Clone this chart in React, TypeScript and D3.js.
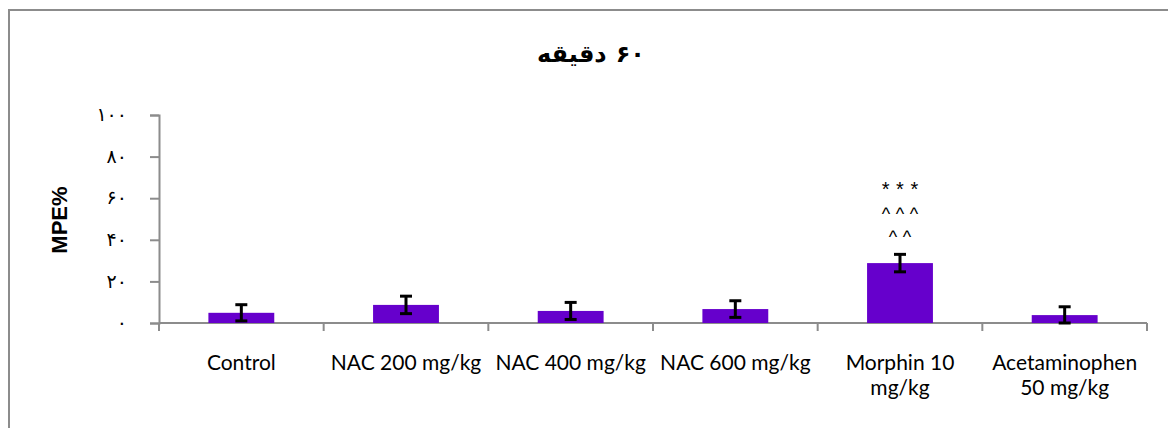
import React, { useEffect, useRef } from "react";
import * as d3 from "d3";

const categories = [
  "Control",
  "NAC 200 mg/kg",
  "NAC 400 mg/kg",
  "NAC 600 mg/kg",
  "Morphin 10\nmg/kg",
  "Acetaminophen\n50 mg/kg",
];
const meanValues = [4.9, 8.7, 5.8, 6.7, 28.8, 3.8];
const errValues = [3.9, 4.2, 4.1, 4.0, 4.2, 4.0];
const yTicks = [0, 20, 40, 60, 80, 100];
const yTickLabels = ["۰", "۲۰", "۴۰", "۶۰", "۸۰", "۱۰۰"];
const significance = [[], [], [], [], ["***", "^^^", "^^"], []];
// title "۶۰ دقیقه" in visual order, left to right
const titleParts = ["دقیقه", "۶۰"];
const yTitle = "MPE%";

const App = () => {
  const ref = useRef<SVGSVGElement>(null);

  useEffect(() => {
    const width = 1168;
    const height = 428;
    const margin = { left: 159, right: 21, top: 115, bottom: 105 };

    const svg = d3.select(ref.current);
    svg.selectAll("*").remove();

    // frame
    svg
      .append("rect")
      .attr("x", 9)
      .attr("y", 10)
      .attr("width", width)
      .attr("height", height)
      .attr("fill", "#fff")
      .attr("stroke", "#8c8c8c")
      .attr("stroke-width", 2);

    const x = d3
      .scaleBand()
      .domain(categories)
      .range([margin.left, width - margin.right])
      .paddingInner(0.6)
      .paddingOuter(0.3);
    const y = d3
      .scaleLinear()
      .domain([0, 100])
      .range([height - margin.bottom, margin.top]);

    const axisColor = "#8c8c8c";
    const y0 = y(0);

    // y axis
    const yAxis = svg
      .append("g")
      .attr("transform", `translate(${margin.left},0)`)
      .call(
        d3
          .axisLeft(y)
          .tickValues(yTicks)
          .tickSize(9)
          .tickPadding(23)
          .tickFormat((d, i) => yTickLabels[i])
      );
    yAxis.select(".domain").attr("stroke", axisColor).attr("stroke-width", 2);
    yAxis.selectAll(".tick line").attr("stroke", axisColor).attr("stroke-width", 2);
    yAxis
      .selectAll(".tick text")
      .attr("font-family", "DejaVu Sans")
      .attr("font-size", 19)
      .attr("dy", "0.3em")
      .attr("fill", "#000");

    // x axis line + category ticks at boundaries
    const step = x.step();
    const xl = margin.left;
    const xr = width - margin.right;
    svg
      .append("line")
      .attr("x1", xl)
      .attr("x2", xr)
      .attr("y1", y0)
      .attr("y2", y0)
      .attr("stroke", axisColor)
      .attr("stroke-width", 2);
    svg
      .append("g")
      .selectAll("line")
      .data(d3.range(categories.length + 1))
      .join("line")
      .attr("x1", (i) => xl + i * step)
      .attr("x2", (i) => xl + i * step)
      .attr("y1", y0)
      .attr("y2", y0 + 8)
      .attr("stroke", axisColor)
      .attr("stroke-width", 2);

    // bars
    svg
      .append("g")
      .selectAll("rect")
      .data(categories)
      .join("rect")
      .attr("x", (d) => x(d)!)
      .attr("width", x.bandwidth())
      .attr("y", (d, i) => y(meanValues[i]))
      .attr("height", (d, i) => y0 - y(meanValues[i]))
      .attr("fill", "#6600CC");

    // error bars
    const hi = (i: number) => y(meanValues[i] + errValues[i]);
    const lo = (i: number) => y(Math.max(0, meanValues[i] - errValues[i]));
    const eb = svg
      .append("g")
      .selectAll("g")
      .data(categories)
      .join("g")
      .attr("transform", (d) => `translate(${x(d)! + x.bandwidth() / 2},0)`);
    eb.append("line")
      .attr("y1", (d, i) => hi(i))
      .attr("y2", (d, i) => lo(i))
      .attr("stroke", "#000")
      .attr("stroke-width", 3);
    eb.append("line")
      .attr("x1", -6)
      .attr("x2", 6)
      .attr("y1", (d, i) => hi(i))
      .attr("y2", (d, i) => hi(i))
      .attr("stroke", "#000")
      .attr("stroke-width", 3);
    eb.append("line")
      .attr("x1", -6)
      .attr("x2", 6)
      .attr("y1", (d, i) => lo(i))
      .attr("y2", (d, i) => lo(i))
      .attr("stroke", "#000")
      .attr("stroke-width", 3);

    // significance marks
    categories.forEach((c, i) => {
      const marks = significance[i];
      const cx = x(c)! + x.bandwidth() / 2;
      marks.forEach((m, j) => {
        const ls = m[0] === "*" ? 6.5 : 5.5;
        svg
          .append("text")
          .attr("x", cx + ls / 2)
          .attr("y", hi(i) - 11 - (marks.length - 1 - j) * 23.5)
          .attr("text-anchor", "middle")
          .attr("font-family", "Liberation Sans")
          .attr("font-size", m[0] === "*" ? 20 : 18)
          .attr("letter-spacing", ls)
          .text(m);
      });
    });

    // category labels
    categories.forEach((c) => {
      const lines = c.split("\n");
      const cx = x(c)! + x.bandwidth() / 2;
      const t = svg
        .append("text")
        .attr("x", cx)
        .attr("y", 370)
        .attr("text-anchor", "middle")
        .attr("font-family", "Lato")
        .attr("font-size", 21)
        .attr("fill", "#000");
      lines.forEach((l, k) => {
        t.append("tspan")
          .attr("x", cx)
          .attr("dy", k === 0 ? 0 : 25)
          .text(l);
      });
    });

    // title, two pieces placed left to right and centred together
    const titleG = svg.append("g");
    const gap = 9;
    const pieces = titleParts.map((p) =>
      titleG
        .append("text")
        .attr("y", 62)
        .attr("font-family", "DejaVu Sans")
        .attr("font-weight", "bold")
        .attr("font-size", 24)
        .text(p)
    );
    const widths = pieces.map((p) => (p.node() as SVGTextElement).getComputedTextLength());
    const total = d3.sum(widths) + gap * (pieces.length - 1);
    let cur = 591 - total / 2;
    pieces.forEach((p, k) => {
      p.attr("x", cur);
      cur += widths[k] + gap;
    });

    svg
      .append("text")
      .attr("transform", `translate(67,220) rotate(-90)`)
      .attr("text-anchor", "middle")
      .attr("font-family", "Liberation Sans")
      .attr("font-weight", "bold")
      .attr("font-size", 22)
      .text(yTitle);
  }, []);

  return (
    <svg
      ref={ref}
      width={1168}
      height={428}
      style={{ position: "absolute", left: 0, top: 0, display: "block" }}
    ></svg>
  );
};

export default App;
